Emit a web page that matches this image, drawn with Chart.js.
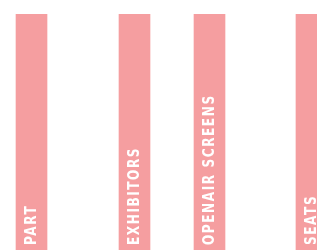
<!DOCTYPE html>
<html>
<head>
<meta charset="utf-8">
<script src="https://cdn.jsdelivr.net/npm/chart.js@4"></script>
<style>
html,body{margin:0;padding:0;background:#fff;}
#wrap{width:317px;height:250px;position:relative;}
</style>
</head>
<body>
<div id="wrap"><canvas id="c"></canvas></div>
<script>
const categories = ["PART", "EXHIBITORS", "OPENAIR SCREENS", "SEATS"];
const positions = [9.94, 42.43, 66.09, 98.26];
const values = [100, 100, 100, 100];

const barLabels = {
  id: 'barLabels',
  afterDatasetsDraw(chart) {
    const ctx = chart.ctx;
    const meta = chart.getDatasetMeta(0);
    ctx.save();
    ctx.fillStyle = '#ffffff';
    ctx.font = "bold 16px 'DejaVu Sans', sans-serif";
    ctx.letterSpacing = '2px';
    ctx.textAlign = 'left';
    ctx.textBaseline = 'middle';
    meta.data.forEach((bar, i) => {
      ctx.save();
      ctx.translate(bar.x, chart.chartArea.bottom - 5);
      ctx.rotate(-Math.PI / 2);
      ctx.scale(0.76, 1);
      ctx.fillText(categories[i], 0, 0);
      ctx.restore();
    });
    ctx.restore();
  }
};

new Chart(document.getElementById('c'), {
  type: 'bar',
  data: {
    datasets: [{
      data: positions.map((p, i) => ({x: p, y: values[i]})),
      backgroundColor: '#F59EA0',
      borderWidth: 0,
      barThickness: 31
    }]
  },
  options: {
    responsive: true,
    maintainAspectRatio: false,
    animation: false,
    layout: {padding: {top: 14, left: 0, right: 0, bottom: 0}},
    plugins: {legend: {display: false}, tooltip: {enabled: false}},
    scales: {
      x: {type: 'linear', min: 0, max: 100, offset: false, display: false},
      y: {min: 0, max: 100, display: false}
    }
  },
  plugins: [barLabels]
});
</script>
</body>
</html>
